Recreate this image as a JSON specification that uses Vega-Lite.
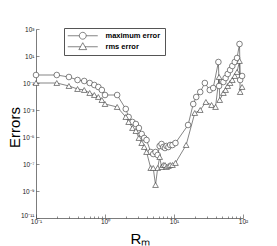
{
 "$schema": "https://vega.github.io/schema/vega-lite/v6.json",
 "width": 207, "height": 189,
 "autosize": "none",
 "padding": {"left": 36, "top": 29, "right": 34, "bottom": 28},
 "background": "white",
 "config": {"view": {"stroke": null}, "font": "Liberation Sans"},
 "data": {"values": [
  {"s": "maximum error", "x": 0.1, "y": 0.391},
  {"s": "maximum error", "x": 0.2, "y": 0.391},
  {"s": "maximum error", "x": 0.3, "y": 0.278},
  {"s": "maximum error", "x": 0.4, "y": 0.167},
  {"s": "maximum error", "x": 0.5, "y": 0.141},
  {"s": "maximum error", "x": 0.6, "y": 0.1},
  {"s": "maximum error", "x": 0.7, "y": 0.0711},
  {"s": "maximum error", "x": 0.8, "y": 0.0506},
  {"s": "maximum error", "x": 0.9, "y": 0.0303},
  {"s": "maximum error", "x": 1.0, "y": 0.0129},
  {"s": "maximum error", "x": 1.5, "y": 0.0129},
  {"s": "maximum error", "x": 2.0, "y": 0.00119},
  {"s": "maximum error", "x": 2.2, "y": 0.000303},
  {"s": "maximum error", "x": 2.5, "y": 0.000129},
  {"s": "maximum error", "x": 2.8, "y": 0.0000918},
  {"s": "maximum error", "x": 3.1, "y": 0.0000464},
  {"s": "maximum error", "x": 3.4, "y": 0.0000167},
  {"s": "maximum error", "x": 3.7, "y": 0.00000843},
  {"s": "maximum error", "x": 4.0, "y": 0.000006},
  {"s": "maximum error", "x": 4.6, "y": 0.000000774},
  {"s": "maximum error", "x": 5.0, "y": 0.00000055},
  {"s": "maximum error", "x": 5.4, "y": 0.000000774},
  {"s": "maximum error", "x": 5.8, "y": 0.000000464},
  {"s": "maximum error", "x": 6.2, "y": 0.00000215},
  {"s": "maximum error", "x": 6.6, "y": 0.00000303},
  {"s": "maximum error", "x": 7.0, "y": 0.00000182},
  {"s": "maximum error", "x": 7.4, "y": 0.00000153},
  {"s": "maximum error", "x": 7.8, "y": 0.00000215},
  {"s": "maximum error", "x": 8.3, "y": 0.00000182},
  {"s": "maximum error", "x": 8.8, "y": 0.00000255},
  {"s": "maximum error", "x": 9.5, "y": 0.00000255},
  {"s": "maximum error", "x": 10.5, "y": 0.00000359},
  {"s": "maximum error", "x": 16, "y": 0.0000774},
  {"s": "maximum error", "x": 19, "y": 0.00278},
  {"s": "maximum error", "x": 21, "y": 0.00918},
  {"s": "maximum error", "x": 24, "y": 0.0215},
  {"s": "maximum error", "x": 28, "y": 0.1},
  {"s": "maximum error", "x": 33, "y": 0.0303},
  {"s": "maximum error", "x": 37, "y": 0.0426},
  {"s": "maximum error", "x": 44, "y": 3.59},
  {"s": "maximum error", "x": 45, "y": 0.06},
  {"s": "maximum error", "x": 52, "y": 0.119},
  {"s": "maximum error", "x": 56, "y": 0.234},
  {"s": "maximum error", "x": 60, "y": 0.464},
  {"s": "maximum error", "x": 65, "y": 0.918},
  {"s": "maximum error", "x": 70, "y": 1.82},
  {"s": "maximum error", "x": 76, "y": 3.59},
  {"s": "maximum error", "x": 82, "y": 7.1},
  {"s": "maximum error", "x": 89, "y": 77.4},
  {"s": "maximum error", "x": 91, "y": 0.167},
  {"s": "maximum error", "x": 97, "y": 0.33},
  {"s": "rms error", "x": 0.1, "y": 0.1},
  {"s": "rms error", "x": 0.2, "y": 0.1},
  {"s": "rms error", "x": 0.3, "y": 0.06},
  {"s": "rms error", "x": 0.4, "y": 0.0359},
  {"s": "rms error", "x": 0.5, "y": 0.0303},
  {"s": "rms error", "x": 0.6, "y": 0.0182},
  {"s": "rms error", "x": 0.7, "y": 0.0129},
  {"s": "rms error", "x": 0.8, "y": 0.00918},
  {"s": "rms error", "x": 0.9, "y": 0.00551},
  {"s": "rms error", "x": 1.0, "y": 0.00278},
  {"s": "rms error", "x": 1.5, "y": 0.00167},
  {"s": "rms error", "x": 2.0, "y": 0.000303},
  {"s": "rms error", "x": 2.2, "y": 0.000129},
  {"s": "rms error", "x": 2.5, "y": 0.0000464},
  {"s": "rms error", "x": 2.8, "y": 0.0000278},
  {"s": "rms error", "x": 3.1, "y": 0.00000843},
  {"s": "rms error", "x": 3.4, "y": 0.00000359},
  {"s": "rms error", "x": 3.7, "y": 0.00000182},
  {"s": "rms error", "x": 4.0, "y": 0.000000774},
  {"s": "rms error", "x": 4.6, "y": 0.0000000506},
  {"s": "rms error", "x": 5.0, "y": 0.0000000506},
  {"s": "rms error", "x": 5.4, "y": 0.00000000278},
  {"s": "rms error", "x": 5.8, "y": 0.0000000506},
  {"s": "rms error", "x": 6.2, "y": 0.00000033},
  {"s": "rms error", "x": 6.6, "y": 0.00000006},
  {"s": "rms error", "x": 7.0, "y": 0.0000000843},
  {"s": "rms error", "x": 7.4, "y": 0.0000000843},
  {"s": "rms error", "x": 7.8, "y": 0.00000006},
  {"s": "rms error", "x": 8.3, "y": 0.0000000711},
  {"s": "rms error", "x": 8.8, "y": 0.0000000843},
  {"s": "rms error", "x": 9.5, "y": 0.0000000843},
  {"s": "rms error", "x": 10.5, "y": 0.000000119},
  {"s": "rms error", "x": 15, "y": 0.00000255},
  {"s": "rms error", "x": 20, "y": 0.0006},
  {"s": "rms error", "x": 24, "y": 0.001},
  {"s": "rms error", "x": 29, "y": 0.00392},
  {"s": "rms error", "x": 35, "y": 0.00234},
  {"s": "rms error", "x": 40, "y": 0.00167},
  {"s": "rms error", "x": 45, "y": 0.278},
  {"s": "rms error", "x": 46, "y": 0.00551},
  {"s": "rms error", "x": 52, "y": 0.0182},
  {"s": "rms error", "x": 56, "y": 0.0303},
  {"s": "rms error", "x": 60, "y": 0.06},
  {"s": "rms error", "x": 65, "y": 0.1},
  {"s": "rms error", "x": 70, "y": 0.167},
  {"s": "rms error", "x": 76, "y": 0.33},
  {"s": "rms error", "x": 82, "y": 0.653},
  {"s": "rms error", "x": 89, "y": 4.26},
  {"s": "rms error", "x": 91, "y": 0.0215},
  {"s": "rms error", "x": 97, "y": 0.0506}
 ]},
 "encoding": {
  "x": {"field": "x", "type": "quantitative",
   "scale": {"type": "log", "domain": [0.1, 100], "nice": false},
   "axis": {
    "title": "Rₘ", "titleFont": "Liberation Sans", "titleFontSize": 15, "titleFontWeight": "normal", "titleColor": "black",
    "titleX": 104, "titleY": 25, "titleBaseline": "alphabetic", "titleAlign": "center",
    "values": [0.1,0.2,0.3,0.4,0.5,0.6,0.7,0.8,0.9,1,2,3,4,5,6,7,8,9,10,20,30,40,50,60,70,80,90,100],
    "labelExpr": "abs(log(datum.value)/LN10 - round(log(datum.value)/LN10)) < 0.001 ? '10' + replace(replace(replace(replace('' + round(log(datum.value)/LN10), '-', '⁻'), '1', '¹'), '0', '⁰'), '2', '²') : ''",
    "labelFontSize": 6.5, "labelColor": "#222", "labelPadding": 4, "labelFlush": false, "labelOverlap": false,
    "tickSize": {"condition": {"test": "abs(log(datum.value)/LN10 - round(log(datum.value)/LN10)) < 0.001", "value": -4}, "value": -2},
    "tickColor": "#444", "tickWidth": 0.6, "domainColor": "#444", "domainWidth": 0.7, "grid": false
   }},
  "y": {"field": "y", "type": "quantitative",
   "scale": {"type": "log", "domain": [1e-11, 1000], "nice": false},
   "axis": {
    "title": "Errors", "titleFont": "Liberation Sans", "titleFontSize": 15, "titleFontWeight": "normal", "titleColor": "black",
    "titleX": -17, "titleY": 98, "titleAngle": -90, "titleBaseline": "alphabetic", "titleAlign": "center",
    "values": [1e-11, 1e-9, 1e-7, 1e-5, 1e-3, 0.1, 10, 1000],
    "labelExpr": "'10' + replace(replace(replace(replace(replace(replace(replace(replace('' + round(log(datum.value)/LN10), '-', '⁻'), '1', '¹'), '1', '¹'), '3', '³'), '5', '⁵'), '7', '⁷'), '9', '⁹'), '0', '⁰')",
    "labelFontSize": 6.5, "labelColor": "#222", "labelPadding": 5, "labelFlush": false, "labelOverlap": false,
    "labelBaseline": {"condition": {"test": "datum.value < 1e-10", "value": "bottom"}, "value": "middle"},
    "tickSize": -3, "tickColor": "#444", "tickWidth": 0.6, "domainColor": "#444", "domainWidth": 0.7, "grid": false
   }}
 },
 "layer": [
  {"mark": {"type": "line", "stroke": "#333", "strokeWidth": 0.6},
   "encoding": {"detail": {"field": "s", "type": "nominal"}}},
  {"mark": {"type": "point", "filled": true, "fill": "white", "stroke": "#333", "strokeWidth": 0.6, "size": 32, "opacity": 1},
   "encoding": {"shape": {"field": "s", "type": "nominal",
    "scale": {"domain": ["maximum error", "rms error"], "range": ["circle", "triangle-up"]},
    "legend": null}}},
  {"transform": [{"filter": "datum.x < 0"}],
   "mark": {"type": "point", "filled": false, "color": "#333", "strokeWidth": 0.6, "size": 36, "opacity": 1},
   "encoding": {"shape": {"field": "s", "type": "nominal",
    "scale": {"domain": ["maximum error", "rms error"], "range": [
      "M-5,0L-1.15,0M1.15,0L5,0M1.15,0A1.15,1.15,0,1,1,-1.15,0A1.15,1.15,0,1,1,1.15,0Z",
      "M-5,0L-0.75,0M0.75,0L5,0M0,-1.35L1.3,0.95L-1.3,0.95Z"]},
    "legend": {"title": null, "orient": "none", "legendX": 28, "legendY": -1, "direction": "vertical",
     "padding": 4, "strokeColor": "#555", "fillColor": "white", "symbolSize": 36, "labelOffset": 19, "symbolOffset": 11,
     "rowPadding": 0, "labelFont": "Liberation Sans", "labelFontWeight": "bold", "labelFontSize": 7.5, "labelColor": "black",
     "symbolStrokeWidth": 0.6, "symbolStrokeColor": "#333", "symbolOpacity": 1}
    }}}
 ],
 "resolve": {"scale": {"shape": "independent"}, "legend": {"shape": "independent"}}
}
